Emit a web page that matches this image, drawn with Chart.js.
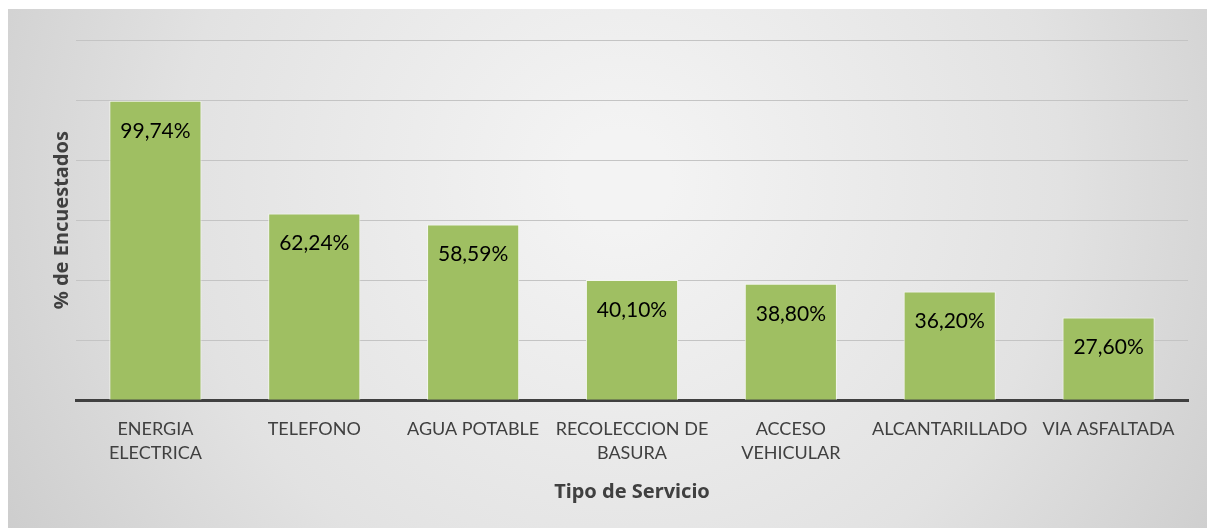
<!DOCTYPE html>
<html>
<head>
<meta charset="utf-8">
<script src="https://cdn.jsdelivr.net/npm/chart.js@4.4.1/dist/chart.umd.min.js"></script>
<style>
  html,body{margin:0;padding:0;background:#fff;}
  #wrap{width:1207px;height:528px;position:relative;}
</style>
</head>
<body>
<div id="wrap"><canvas id="chart" width="1207" height="528"></canvas></div>
<script>
const categories = [['ENERGIA','ELECTRICA'], 'TELEFONO', 'AGUA POTABLE', ['RECOLECCION DE','BASURA'], ['ACCESO','VEHICULAR'], 'ALCANTARILLADO', 'VIA ASFALTADA'];
const values = [99.74, 62.24, 58.59, 40.10, 38.80, 36.20, 27.60];
const valueLabels = ['99,74%', '62,24%', '58,59%', '40,10%', '38,80%', '36,20%', '27,60%'];

const ctx = document.getElementById('chart').getContext('2d');

// background panel with soft gradient
const bgPlugin = {
  id:'bg',
  beforeDraw(chart){
    const c = chart.ctx;
    const g = c.createRadialGradient(620, 180, 50, 620, 180, 760);
    g.addColorStop(0, '#f3f3f3');
    g.addColorStop(0.55, '#e2e2e2');
    g.addColorStop(1, '#c9c9c9');
    c.save();
    c.fillStyle = g;
    c.fillRect(8, 9, chart.width - 8, chart.height - 9);
    c.restore();
  }
};

// value labels inside top of each bar
const labelPlugin = {
  id:'vals',
  afterDatasetsDraw(chart){
    const c = chart.ctx;
    const meta = chart.getDatasetMeta(0);
    c.save();
    c.font = '21px Lato';
    c.fillStyle = '#000';
    c.textAlign = 'center';
    c.textBaseline = 'middle';
    meta.data.forEach((bar,i)=>{
      c.fillText(valueLabels[i], bar.x, bar.y + 30);
    });
    c.restore();
  }
};

new Chart(ctx,{
  type:'bar',
  data:{labels:categories, datasets:[{data:values, backgroundColor:'#9fbf62', borderColor:'#f4f7ee', borderWidth:1, categoryPercentage:0.58, barPercentage:1}]},
  options:{
    responsive:false,
    animation:false,
    layout:{padding:{left:46, right:19, top:40, bottom:20}},
    plugins:{legend:{display:false}, tooltip:{enabled:false}},
    scales:{
      x:{
        grid:{display:false},
        border:{display:true, color:'#404040', width:3},
        ticks:{color:'#404040', font:{family:'Lato', size:18, lineHeight:1.38}, padding:8, maxRotation:0, autoSkip:false},
        title:{display:true, text:'Tipo de Servicio', color:'#404040', font:{family:'Noto Sans', size:20, weight:'bold'}, padding:{top:6}}
      },
      y:{
        min:0, max:120,
        ticks:{display:false, stepSize:20},
        grid:{color:'#c4c4c4', lineWidth:1, drawTicks:false},
        border:{display:false},
        title:{display:true, text:'% de Encuestados', color:'#404040', font:{family:'Noto Sans', size:20, weight:'bold'}, padding:{bottom:2}}
      }
    }
  },
  plugins:[bgPlugin, labelPlugin]
});
</script>
</body>
</html>
